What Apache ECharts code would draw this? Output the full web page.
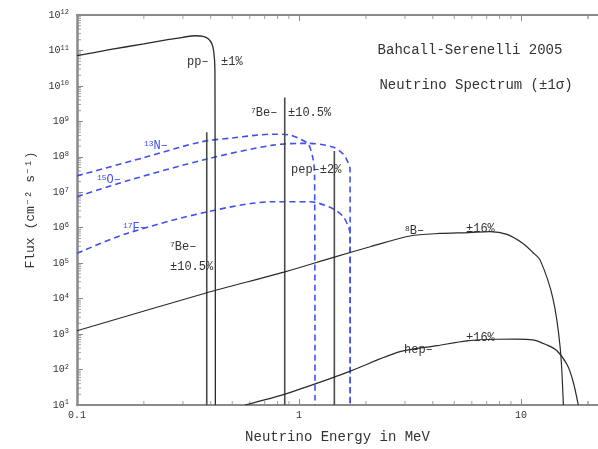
<!DOCTYPE html>
<html><head><meta charset="utf-8">
<script src="https://cdn.jsdelivr.net/npm/echarts@6/dist/echarts.min.js"></script>
<style>html,body{margin:0;padding:0;background:#fff}#c{width:598px;height:449px}</style>
</head><body><div id="c"></div>
<script>
// ---- data (energy in MeV, flux in cm^-2 s^-1 [MeV^-1]) ----
const ppE  = [0.1, 0.14, 0.2, 0.26, 0.3, 0.34, 0.37, 0.39, 0.405, 0.413, 0.418, 0.42];
const ppF  = [7.1e10, 1.05e11, 1.54e11, 2.06e11, 2.35e11, 2.6e11, 2.5e11, 2.13e11, 1.54e11, 9.2e10, 2.9e10, 10];
const be7E = [0.384, 0.862];
const be7F = [4.9e8, 4.7e9];
const pepE = [1.442];
const pepF = [1.45e8];
const n13E = [0.1, 0.2, 0.358, 0.5, 0.764, 0.911, 1.01, 1.10, 1.156, 1.175, 1.18];
const n13F = [2.9e7, 9.5e7, 2.6e8, 3.4e8, 4.35e8, 4.1e8, 3.2e8, 2.3e8, 8.7e7, 3e7, 10];
const o15E = [0.1, 0.168, 0.385, 0.764, 1.087, 1.42, 1.58, 1.66, 1.697, 1.70];
const o15F = [7.5e6, 2.1e7, 8.7e7, 2.14e8, 2.4e8, 1.9e8, 1.2e8, 7.1e7, 4.5e7, 10];
const f17E = [0.1, 0.168, 0.385, 0.764, 1.12, 1.42, 1.58, 1.66, 1.697, 1.70];
const f17F = [1.9e5, 6.9e5, 2.8e6, 5.4e6, 5.4e6, 3.45e6, 2.06e6, 1.15e6, 6.9e5, 10];
const b8E  = [0.1, 0.381, 0.856, 1.43, 2.09, 3.16, 4.31, 5.8, 7.24, 8.65, 10.2, 11.3, 12.2, 13.9, 15.0, 15.5];
const b8F  = [1.24e3, 1.44e4, 5.6e4, 1.46e5, 2.9e5, 5.85e5, 6.9e5, 7.3e5, 7.8e5, 6.5e5, 3.6e5, 2.0e5, 1.2e5, 1.04e4, 413, 10];
const hepE = [0.571, 0.856, 1.43, 1.70, 2.85, 4.19, 5.71, 7.8, 9.5, 11.3, 13.0, 14.5, 16.1, 17.1, 18.1];
const hepF = [10, 20, 60, 90, 319, 470, 646, 715, 720, 690, 500, 340, 138, 49, 10];
const xTickLabels = ['0.1', '1', '10'];
const xMin = 0.1, xMax = 22.2, yMin = 10, yMax = 1e12;

const zip = (a, b) => a.map((v, i) => [v, b[i]]);
const FONT = '"Liberation Mono", "DejaVu Sans Mono", monospace';
const BLACK = '#2a2a2a', BLUE = '#3f4ff0', AX = '#8a8a8a';

// minor tick positions (log decades)
const xMinor = [], yMinor = [];
for (let n = -1; n <= 1; n++) for (let k = 2; k <= 9; k++) { const v = k * Math.pow(10, n); if (v < xMax) xMinor.push(v); }
xMinor.push(20);
for (let n = 1; n <= 11; n++) for (let k = 2; k <= 9; k++) yMinor.push(k * Math.pow(10, n));

const lineSeries = (data, color, width, dashed, smooth) => ({
  type: 'line', data, showSymbol: false, symbol: 'none', silent: true, clip: true,
  smooth: smooth || false,
  lineStyle: { color, width, type: dashed ? [6, 4] : 'solid' }, z: dashed ? 3 : 4
});
const vLines = (E, F) => E.map((e, i) => lineSeries([[e, yMin], [e, F[i]]], '#4a4a4a', 1.6, false));

const series = [
  lineSeries(zip(ppE, ppF), BLACK, 1.3, false, 0.3),
  ...vLines(be7E, be7F),
  ...vLines(pepE, pepF),
  lineSeries(zip(n13E, n13F), BLUE, 1.6, true, 0.3),
  lineSeries(zip(o15E, o15F), BLUE, 1.6, true, 0.3),
  lineSeries(zip(f17E, f17F), BLUE, 1.6, true, 0.3),
  lineSeries(zip(b8E, b8F), BLACK, 1.2, false, 0.3),
  lineSeries(zip(hepE, hepF), BLACK, 1.2, false, 0.3),
  { type: 'scatter', silent: true, clip: false, symbol: 'rect', symbolSize: [1, 4], symbolOffset: [0, -2],
    itemStyle: { color: AX }, data: xMinor.map(v => [v, yMin]), z: 1 },
  { type: 'scatter', silent: true, clip: false, symbol: 'rect', symbolSize: [1, 4], symbolOffset: [0, 2],
    itemStyle: { color: AX }, data: xMinor.map(v => [v, yMax]), z: 1 },
  { type: 'scatter', silent: true, clip: false, symbol: 'rect', symbolSize: [4, 1], symbolOffset: [2, 0],
    itemStyle: { color: AX }, data: yMinor.map(v => [xMin, v]), z: 1 }
];

const txt = (text, x, y, size, color, align) => ({
  type: 'text', x: x, y: y, silent: true, z: 10,
  style: { text, font: size + 'px ' + FONT, fill: color || '#333', textAlign: align || 'left',
           textVerticalAlign: 'middle', align: align || 'left', verticalAlign: 'middle',
           rich: { s: { fontSize: 8, fontFamily: FONT, fill: color || '#333', verticalAlign: 'top', lineHeight: 12 },
                   n: { fontSize: size, fontFamily: FONT, fill: color || '#333', lineHeight: 12 } } }
});

const chart = echarts.init(document.getElementById('c'), null, { renderer: 'canvas' });
chart.setOption({
  animation: false,
  backgroundColor: '#fff',
  grid: { left: 77, top: 15, right: 0, bottom: 41 },
  xAxis: [{
    type: 'log', logBase: 10, min: xMin, max: xMax, interval: 1,
    name: 'Neutrino Energy in MeV', nameLocation: 'middle', nameGap: 25,
    nameTextStyle: { fontFamily: FONT, fontSize: 14, color: '#333' },
    axisLine: { lineStyle: { color: AX, width: 2 } },
    axisTick: { inside: true, length: 6, lineStyle: { color: AX } },
    axisLabel: { showMaxLabel: false, fontFamily: FONT, fontSize: 10, color: '#333', margin: 5,
      formatter: v => { const i = Math.round(Math.log10(v)) + 1; return xTickLabels[i] || ''; } },
    splitLine: { show: false }
  }, {
    type: 'log', logBase: 10, min: xMin, max: xMax, interval: 1, position: 'top',
    axisLine: { lineStyle: { color: AX, width: 2 } },
    axisTick: { inside: true, length: 6, lineStyle: { color: AX } },
    axisLabel: { show: false }, splitLine: { show: false }
  }],
  yAxis: {
    type: 'log', logBase: 10, min: yMin, max: yMax, interval: 1,
    name: 'Flux (cm⁻² s⁻¹)', nameLocation: 'middle', nameGap: 40,
    nameTextStyle: { fontFamily: FONT, fontSize: 13, color: '#333' },
    axisLine: { lineStyle: { color: AX, width: 2.5 } },
    axisTick: { inside: true, length: 6, lineStyle: { color: AX } },
    axisLabel: {
      margin: 8, color: '#333',
      formatter: v => '{b|10}{s|' + Math.round(Math.log10(v)) + '}',
      rich: { b: { fontFamily: FONT, fontSize: 10, lineHeight: 12, color: '#333' },
              s: { fontFamily: FONT, fontSize: 7, lineHeight: 12, verticalAlign: 'top', color: '#333' } }
    },
    splitLine: { show: false }
  },
  series,
  graphic: [
    txt('Bahcall-Serenelli 2005', 470, 50, 14, '#333', 'center'),
    txt('Neutrino Spectrum (±1σ)', 476, 85, 14, '#333', 'center'),
    txt('pp–', 187, 62, 12), txt('±1%', 221, 62, 12),
    txt('{s|7}{n|Be–}', 251, 113, 12), txt('±10.5%', 288, 113, 12),
    txt('{s|7}{n|Be–}', 170, 247, 12), txt('±10.5%', 170, 267, 12),
    txt('pep–±2%', 291, 170, 12),
    txt('{s|8}{n|B–}', 405, 231, 12), txt('±16%', 466, 229, 12),
    txt('hep–', 404, 350, 12), txt('±16%', 466, 338, 12),
    txt('{s|13}{n|N–}', 144, 146, 12, BLUE), txt('{s|15}{n|O–}', 97, 180, 12, BLUE), txt('{s|17}{n|F–}', 123, 228, 12, BLUE)
  ]
});
</script></body></html>
